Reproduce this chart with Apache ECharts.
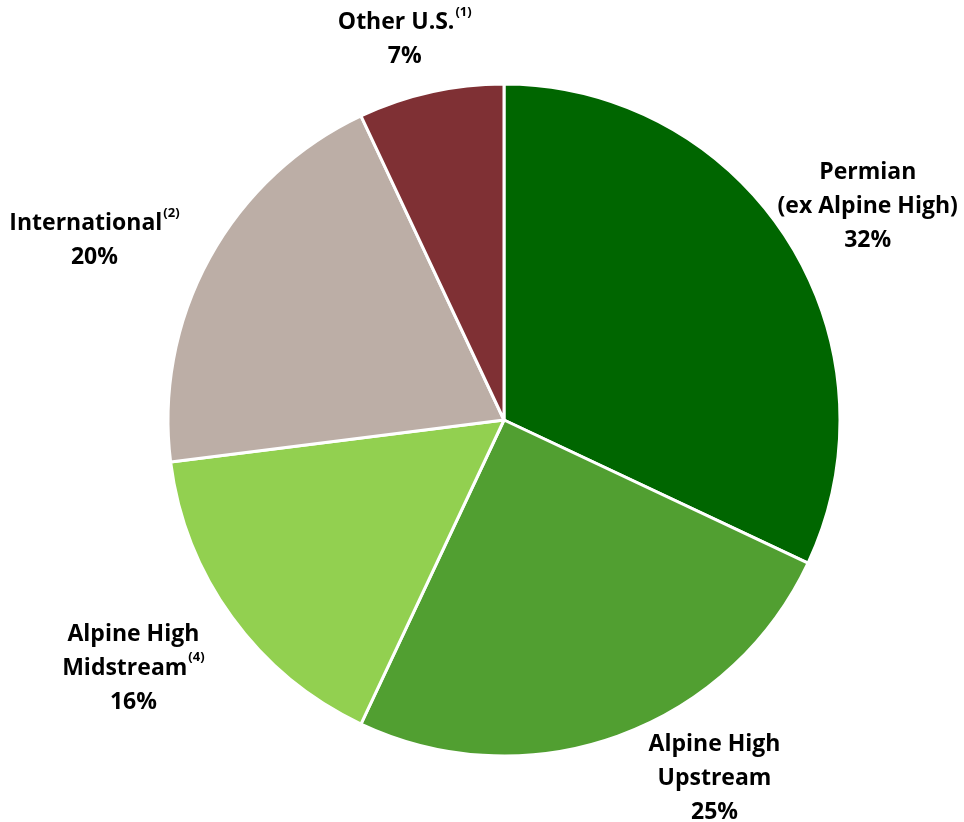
<!DOCTYPE html>
<html>
<head>
<meta charset="utf-8">
<script src="https://cdn.jsdelivr.net/npm/echarts@6/dist/echarts.min.js"></script>
<style>
  html, body { margin: 0; padding: 0; background: #fff; }
  #chart { width: 964px; height: 822px; }
</style>
</head>
<body>
<div id="chart"></div>
<script>
// Segment names (label lines), footnote markers and shares in percent
const segments = ['Permian', 'Alpine High Upstream', 'Alpine High Midstream', 'International', 'Other U.S.'];
const labelLines = [
  ['Permian', '(ex Alpine High)'],
  ['Alpine High', 'Upstream'],
  ['Alpine High', 'Midstream'],
  ['International'],
  ['Other U.S.']
];
const footnotes = ['', '', '(4)', '(2)', '(1)'];
const shares = [32, 25, 16, 20, 7];
const colors = ['#006600', '#519f31', '#92d050', '#bcaea6', '#7f3034'];

// Label placement: radial distance from centre plus a small nudge per label
const labelRadius = 400;
const labelNudge = [[26, 1], [75, -18], [-47, 13], [-59, 13], [-12, 10]];

const font = '"Open Sans", Lato, sans-serif';
const CX = 504, CY = 420;

function labelText(i) {
  const lines = labelLines[i].map(s => '{t|' + s + '}');
  if (footnotes[i]) lines[lines.length - 1] += '{sup|' + footnotes[i] + '}';
  lines.push('{t|' + shares[i] + '%}');
  return lines.join('\n');
}

const total = shares.reduce((a, b) => a + b, 0);
const midAngles = [];
let acc = 0;
shares.forEach(v => { midAngles.push((acc + v / 2) / total * 2 * Math.PI); acc += v; });

const data = segments.map((name, i) => ({
  name: name,
  value: shares[i],
  itemStyle: { color: colors[i] },
  label: { formatter: labelText(i) }
}));

const chart = echarts.init(document.getElementById('chart'));
chart.setOption({
  animation: false,
  series: [{
    type: 'pie',
    center: [CX, CY],
    radius: 336,
    startAngle: 90,
    clockwise: true,
    data: data,
    itemStyle: { borderColor: '#ffffff', borderWidth: 3 },
    label: {
      show: true,
      position: 'outside',
      overflow: 'none',
      color: '#000',
      rich: {
        t: { fontFamily: font, fontWeight: 'bold', fontSize: 23, lineHeight: 34, color: '#000', align: 'center' },
        sup: { fontFamily: font, fontWeight: 'bold', fontSize: 13, lineHeight: 34, color: '#000', verticalAlign: 'top', padding: [0, 0, 12, 1] }
      }
    },
    labelLine: { show: false },
    labelLayout: function (p) {
      const i = p.dataIndex;
      const a = midAngles[i];
      return {
        x: CX + labelRadius * Math.sin(a) + labelNudge[i][0],
        y: CY - labelRadius * Math.cos(a) + labelNudge[i][1],
        align: 'center',
        verticalAlign: 'middle'
      };
    }
  }]
});
</script>
</body>
</html>
